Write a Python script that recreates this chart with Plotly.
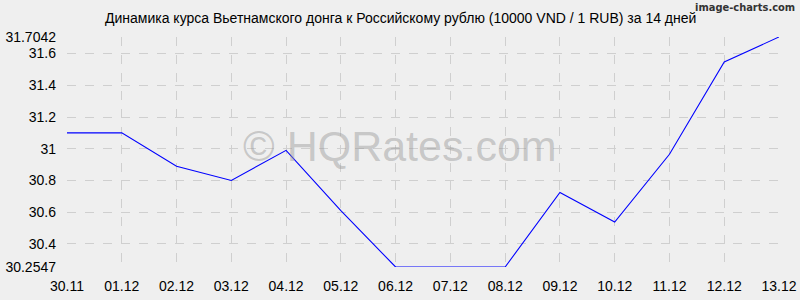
import plotly.graph_objects as go

dates = ["30.11", "01.12", "02.12", "03.12", "04.12", "05.12", "06.12",
         "07.12", "08.12", "09.12", "10.12", "11.12", "12.12", "13.12"]
rates = [31.10, 31.10, 30.89, 30.80, 30.99, 30.61, 30.2547,
         30.2547, 30.2547, 30.724, 30.538, 30.965, 31.547, 31.7042]

y_min = 30.2547
y_max = 31.7042
y_ticks = [30.2547, 30.4, 30.6, 30.8, 31.0, 31.2, 31.4, 31.6, 31.7042]
y_ticktext = ["30.2547", "30.4", "30.6", "30.8", "31", "31.2", "31.4", "31.6", "31.7042"]

title = "Динамика курса Вьетнамского донга к Российскому рублю (10000 VND / 1 RUB) за 14 дней"

L, R, T, B = 67, 21, 37, 33
PW, PH = 800 - L - R, 300 - T - B

fig = go.Figure()
fig.add_trace(go.Scatter(
    x=dates, y=rates, mode="lines",
    line=dict(color="#0000ff", width=1.1),
    hoverinfo="skip", showlegend=False, cliponaxis=False,
))

font = "Liberation Sans, Arial, sans-serif"

fig.update_layout(
    width=800, height=300,
    margin=dict(l=L, r=R, t=T, b=B, autoexpand=False),
    paper_bgcolor="#efefef", plot_bgcolor="#efefef",
    font=dict(family=font, size=14, color="#000000"),
    xaxis=dict(
        type="category", range=[0, len(dates) - 1], automargin=False,
        showgrid=True, gridcolor="#cfcfcf", griddash="dash", gridwidth=1,
        zeroline=False, showline=False,
        ticks="", tickfont=dict(size=14, family=font, color="#000"),
        ticklabelstandoff=9,
    ),
    yaxis=dict(
        range=[y_min, y_max], automargin=False,
        tickvals=y_ticks, ticktext=y_ticktext,
        showgrid=True, gridcolor="#cfcfcf", griddash="dash", gridwidth=1,
        zeroline=False, showline=False,
        ticks="", tickfont=dict(size=14, family=font, color="#000"),
        ticklabelstandoff=10,
    ),
    annotations=[
        dict(text=title, xref="paper", yref="paper",
             x=(400 - L) / PW, y=(300 - B - 18) / PH,
             xanchor="center", yanchor="middle",
             showarrow=False, font=dict(size=14, family=font, color="#000")),
        dict(text="© HQRates.com", xref="paper", yref="paper",
             x=(400 - L) / PW, y=(300 - B - 146) / PH,
             xanchor="center", yanchor="middle",
             showarrow=False, font=dict(size=43, family=font, color="rgba(150,150,150,0.45)")),
        dict(text="image-charts.com", xref="paper", yref="paper",
             x=(797 - L) / PW, y=(300 - B - 7) / PH,
             xanchor="right", yanchor="middle", showarrow=False,
             font=dict(size=11, family="DejaVu Sans Condensed, Liberation Sans Narrow, sans-serif",
                       color="#333", weight="bold")),
    ],
)

fig.write_html("out.html")
